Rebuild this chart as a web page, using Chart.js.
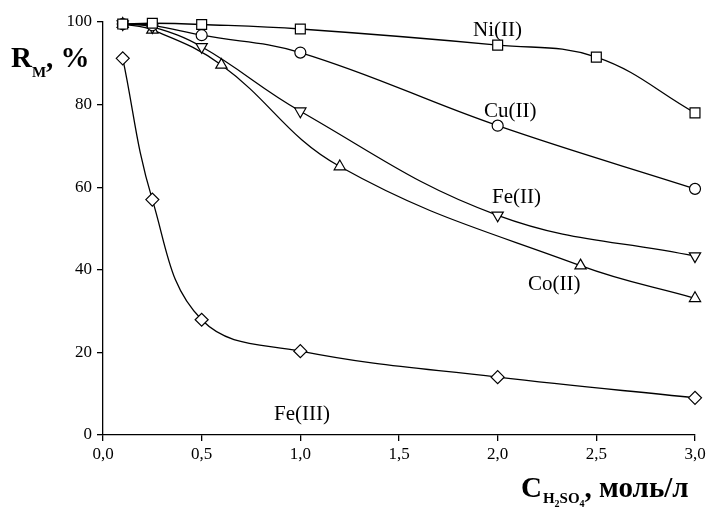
<!DOCTYPE html>
<html>
<head>
<meta charset="utf-8">
<script src="https://cdn.jsdelivr.net/npm/chart.js@4.4.1/dist/chart.umd.min.js"></script>
<style>
  html, body { margin: 0; padding: 0; background: #fff; }
  #wrap { width: 709px; height: 511px; position: relative; }
</style>
</head>
<body>
<div id="wrap"><canvas id="chart"></canvas></div>
<script>
// концентрация H2SO4, моль/л
const xStd = [0.1, 0.25, 0.5, 1.0, 2.0, 3.0];
const xCo = [0.1, 0.25, 0.6, 1.2, 2.42, 3.0];
const xNi = [0.1, 0.25, 0.5, 1.0, 2.0, 2.5, 3.0];

// R_M, %
const niVals = [99.5, 99.7, 99.4, 98.3, 94.4, 91.5, 78.0];
const cuVals = [99.5, 99.2, 96.8, 92.6, 74.9, 59.6];
const fe2Vals = [99.5, 98.8, 94.0, 78.4, 53.2, 43.3];
const coVals = [99.5, 98.1, 89.6, 65.0, 41.0, 33.1];
const fe3Vals = [91.2, 57.0, 27.9, 20.3, 14.0, 9.0];

const seriesLabels = ['Ni(II)', 'Cu(II)', 'Fe(II)', 'Co(II)', 'Fe(III)'];
const xTicks = [0, 0.5, 1.0, 1.5, 2.0, 2.5, 3.0];
const yTicks = [0, 20, 40, 60, 80, 100];

const serif = "'Liberation Serif', 'DejaVu Serif', serif";

function pts(xs, ys) {
    return xs.map((x, i) => ({ x: x, y: ys[i] }));
}

function series(label, xs, ys, style, rotation, radius) {
    return {
        label: label,
        data: pts(xs, ys),
        showLine: true,
        clip: false,
        borderColor: '#000',
        borderWidth: 1.3,
        tension: 0.4,
        pointStyle: style,
        rotation: rotation,
        pointRadius: radius,
        pointBackgroundColor: '#fff',
        pointBorderColor: '#000',
        pointBorderWidth: 1.2
    };
}

// подписи серий и заголовки осей
const annotations = {
    id: 'annotations',
    afterDraw(chart) {
        const c = chart.ctx;
        c.save();
        c.fillStyle = '#000';
        c.textBaseline = 'alphabetic';
        c.textAlign = 'left';

        c.font = `21px ${serif}`;
        c.fillText(seriesLabels[0], 473, 36);
        c.fillText(seriesLabels[1], 484, 117);
        c.fillText(seriesLabels[2], 492, 203);
        c.fillText(seriesLabels[3], 528, 290);
        c.fillText(seriesLabels[4], 274, 420);

        // ось Y
        let x = 11;
        c.font = `bold 29px ${serif}`;
        c.fillText('R', x, 67);
        x += c.measureText('R').width;
        c.font = `bold 15px ${serif}`;
        c.fillText('M', x, 77);
        x += c.measureText('M').width;
        c.font = `bold 29px ${serif}`;
        c.fillText(', %', x, 67);

        // ось X
        x = 521;
        c.font = `bold 29px ${serif}`;
        c.fillText('C', x, 497);
        x += c.measureText('C').width + 1;
        c.font = `bold 15px ${serif}`;
        c.fillText('H', x, 503);
        x += c.measureText('H').width;
        c.font = `bold 10px ${serif}`;
        c.fillText('2', x, 507);
        x += c.measureText('2').width;
        c.font = `bold 15px ${serif}`;
        c.fillText('SO', x, 503);
        x += c.measureText('SO').width;
        c.font = `bold 10px ${serif}`;
        c.fillText('4', x, 507);
        x += c.measureText('4').width;
        c.font = `bold 29px ${serif}`;
        c.fillText(', моль/л', x, 497);
        c.restore();
    }
};

new Chart(document.getElementById('chart'), {
    type: 'scatter',
    data: {
        datasets: [
            series(seriesLabels[0], xNi, niVals, 'rect', 0, 7),
            series(seriesLabels[1], xStd, cuVals, 'circle', 0, 5.5),
            series(seriesLabels[2], xStd, fe2Vals, 'triangle', 180, 6.5),
            series(seriesLabels[3], xCo, coVals, 'triangle', 0, 6.5),
            series(seriesLabels[4], xStd, fe3Vals, 'rectRot', 0, 6.5)
        ]
    },
    options: {
        responsive: true,
        maintainAspectRatio: false,
        animation: false,
        layout: { padding: { left: 0, right: 14, top: 22, bottom: 0 } },
        plugins: {
            legend: { display: false },
            tooltip: { enabled: false }
        },
        scales: {
            x: {
                type: 'linear',
                min: 0,
                max: 3,
                afterFit: s => { s.height = 76; },
                afterBuildTicks: s => { s.ticks = xTicks.map(v => ({ value: v })); },
                border: { color: '#000', width: 1.3 },
                grid: { drawOnChartArea: false, color: '#000', tickLength: 6, lineWidth: 1.3 },
                ticks: {
                    color: '#000',
                    font: { family: serif, size: 17 },
                    padding: 3,
                    maxRotation: 0,
                    callback: v => v.toFixed(1).replace('.', ',')
                }
            },
            y: {
                min: 0,
                max: 100,
                afterFit: s => { s.width = 103; },
                afterBuildTicks: s => { s.ticks = yTicks.map(v => ({ value: v })); },
                border: { color: '#000', width: 1.3 },
                grid: { drawOnChartArea: false, color: '#000', tickLength: 6, lineWidth: 1.3 },
                ticks: {
                    color: '#000',
                    font: { family: serif, size: 17 },
                    padding: 5
                }
            }
        }
    },
    plugins: [annotations]
});
</script>
</body>
</html>
